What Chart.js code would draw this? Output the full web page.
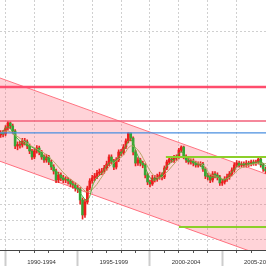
<!DOCTYPE html>
<html>
<head>
<meta charset="utf-8">
<script src="https://cdn.jsdelivr.net/npm/chart.js@4.4.1/dist/chart.umd.min.js"></script>
<style>
  html, body { margin: 0; padding: 0; background: #fff; }
  #wrap { width: 266px; height: 266px; }
</style>
</head>
<body>
<div id="wrap"><canvas id="chart" width="266" height="266"></canvas></div>
<script>
/* ── Barras bimestrales (sep 1989 → 2008) ── */
const firstBar = 1989.667;
const barStep  = 1 / 6;

const opens = [
  146.0, 147.9, 146.9, 153.2, 158.7, 155.4, 150.0, 135.1, 136.5, 136.0,
  139.9, 139.0, 135.1, 130.4, 125.1, 130.4, 133.2, 129.5, 125.1, 122.5,
  125.1, 120.8, 116.6, 113.4, 106.5, 110.3, 108.0, 106.5, 107.0, 105.8,
  103.6, 102.8, 100.7, 100.0,  92.6,  83.4,  91.3, 100.7, 105.8, 108.0,
  109.5, 111.8, 112.6, 113.4, 115.8, 119.1, 125.1, 121.6, 116.6, 122.5,
  129.5, 128.6, 134.1, 139.9, 147.9, 142.8, 129.5, 119.9, 122.5, 119.9,
  118.3, 110.3, 105.0, 103.6, 108.0, 107.2, 108.8, 110.3, 108.8, 115.8,
  120.8, 123.3, 122.5, 124.2, 124.9, 131.3, 134.1, 125.1, 122.5, 120.8,
  121.6, 119.9, 118.3, 118.8, 119.1, 115.0, 109.5, 108.8, 106.5, 111.1,
  110.3, 108.8, 104.3, 105.0, 107.2, 108.8, 111.1, 114.2, 118.3, 119.9,
  118.3, 119.1, 118.3, 119.9, 119.1, 120.8, 119.9, 120.8, 123.3, 118.3,
  115.0
];
const highs = [
  150.5, 150.8, 155.8, 160.4, 160.0, 157.5, 151.5, 139.0, 139.5, 142.5,
  142.5, 141.0, 137.0, 132.0, 132.5, 135.5, 135.0, 131.0, 127.0, 127.5,
  126.5, 122.5, 118.5, 115.0, 112.5, 112.0, 110.0, 109.0, 108.5, 107.0,
  105.5, 104.5, 102.5, 101.0,  94.0,  93.0, 102.0, 107.5, 110.0, 111.5,
  114.0, 115.0, 115.5, 118.0, 121.5, 127.0, 127.0, 123.0, 124.5, 131.5,
  132.0, 136.5, 142.0, 148.2, 148.0, 144.0, 131.0, 124.5, 124.0, 121.5,
  119.5, 111.5, 106.5, 110.0, 110.0, 111.0, 112.5, 112.0, 117.5, 122.5,
  125.5, 125.5, 126.5, 127.0, 133.0, 135.2, 135.0, 127.0, 124.5, 123.5,
  123.5, 121.5, 121.0, 121.0, 120.5, 116.5, 111.5, 110.5, 113.0, 113.0,
  112.0, 110.0, 107.0, 109.0, 111.0, 113.0, 116.0, 120.0, 122.0, 121.5,
  121.0, 121.0, 122.0, 121.5, 122.5, 122.5, 122.5, 124.4, 124.0, 119.5,
  116.5
];
const lows = [
  143.5, 144.0, 145.0, 151.0, 152.5, 147.0, 132.5, 131.5, 133.0, 134.0,
  136.0, 132.5, 128.0, 123.0, 123.5, 128.5, 127.0, 123.0, 120.5, 120.5,
  118.5, 114.5, 111.0, 104.5, 104.5, 106.0, 104.5, 104.5, 103.5, 101.5,
  100.5,  98.5,  97.5,  90.0,  81.0,  82.0,  90.0,  99.5, 104.0, 106.0,
  107.5, 110.0, 110.5, 111.5, 114.0, 117.5, 119.5, 114.5, 115.0, 121.0,
  126.0, 127.0, 132.5, 138.0, 140.0, 127.0, 117.5, 118.0, 117.5, 116.0,
  108.0, 103.0, 101.5, 102.5, 105.0, 105.5, 107.0, 106.5, 107.5, 114.5,
  119.0, 120.5, 120.5, 122.0, 123.5, 129.5, 123.5, 120.5, 119.0, 119.0,
  117.5, 116.5, 116.5, 117.0, 113.0, 107.5, 106.5, 104.5, 105.0, 108.0,
  106.5, 102.5, 102.5, 103.5, 105.5, 107.0, 109.5, 112.5, 116.5, 116.5,
  116.5, 116.5, 116.5, 117.0, 117.5, 118.0, 118.0, 119.0, 116.5, 113.0,
  111.5
];
const closes = [
  147.9, 146.9, 153.2, 158.7, 155.4, 150.0, 135.1, 136.5, 136.0, 139.9,
  139.0, 135.1, 130.4, 125.1, 130.4, 133.2, 129.5, 125.1, 122.5, 125.1,
  120.8, 116.6, 113.4, 106.5, 110.3, 108.0, 106.5, 107.0, 105.8, 103.6,
  102.8, 100.7, 100.0,  92.6,  83.4,  91.3, 100.7, 105.8, 108.0, 109.5,
  111.8, 112.6, 113.4, 115.8, 119.1, 125.1, 121.6, 116.6, 122.5, 129.5,
  128.6, 134.1, 139.9, 147.9, 142.8, 129.5, 119.9, 122.5, 119.9, 118.3,
  110.3, 105.0, 103.6, 108.0, 107.2, 108.8, 110.3, 108.8, 115.8, 120.8,
  123.3, 122.5, 124.2, 124.9, 131.3, 134.1, 125.1, 122.5, 120.8, 121.6,
  119.9, 118.3, 118.8, 119.1, 115.0, 109.5, 108.8, 106.5, 111.1, 110.3,
  108.8, 104.3, 105.0, 107.2, 108.8, 111.1, 114.2, 118.3, 119.9, 118.3,
  119.1, 118.3, 119.9, 119.1, 120.8, 119.9, 120.8, 123.3, 118.3, 115.0,
  113.4
];

/* ── Medias móviles (una muestra cada 3 barras) ── */
const maStep = 3;
const maSlow = [
  147.9, 150.0, 145.9, 140.9, 136.0, 132.3, 128.6, 123.3, 116.6, 110.3,
  105.8, 102.1,  97.9, 101.4, 108.8, 116.6, 121.6, 126.8, 135.1, 131.3,
  120.8, 111.1, 108.0, 112.6, 119.1, 125.1, 124.2, 120.8, 118.3, 111.1,
  108.8, 107.2, 109.5, 115.0, 117.4, 119.1, 119.9, 119.0
];
const maFast = [
  146.9, 154.3, 144.9, 138.0, 135.1, 131.3, 126.0, 119.1, 111.1, 107.2,
  103.6,  97.2,  92.6, 105.8, 111.8, 119.9, 122.5, 131.3, 140.9, 126.0,
  115.8, 106.5, 108.8, 117.4, 122.5, 129.5, 122.5, 119.9, 115.8, 108.8,
  108.8, 106.5, 112.6, 118.3, 119.1, 119.9, 120.8, 115.5
];

/* ── Ejes ── */
const xRange      = [1989.62, 2008.03];
const yRange      = [65.27, 374.96];
const yGrid       = [70, 80, 90, 100, 300];
const xGridYears  = [1990, 1992, 1994, 1996, 1998, 2000, 2002, 2004, 2006];
const xTickYears  = [1990, 1991, 1992, 1993, 1994, 1995, 1996, 1997, 1998,
                     1999, 2000, 2001, 2002, 2003, 2004, 2005, 2006, 2007];
const blockStarts = [1990, 1995, 2000, 2005];
const blockLabels = ['1990-1994', '1995-1999', '2000-2004', '2005-2009'];

/* ── Niveles horizontales y canal ── */
const levelPrices   = [204, 161, 148, 125.1, 76.7];
const levelFrom     = [1989.62, 1989.62, 1989.62, 2001.1, 2002.0];
const channelTop    = [217.3, 111.1];
const channelBottom = [121.4, 62.2];

const levelStyles = [
  { color: '#ff4d6d', width: 2.5 },
  { color: '#f2607a', width: 1.5 },
  { color: '#4a8fe0', width: 1.2 },
  { color: '#8ccf2a', width: 2 },
  { color: '#8ccf2a', width: 2 },
];
const UP = '#ee1c1c', DOWN = '#34a534', WICK = '#e82424';

const barYear  = i => firstBar + i * barStep;
const blockMid = blockStarts.map(v => v + 2.5);

const wickData  = closes.map((c, i) => ({ x: barYear(i), y: [lows[i], highs[i]] }));
const bodyData  = closes.map((c, i) => ({ x: barYear(i), y: [opens[i], c] }));
const bodyColor = closes.map((c, i) => c >= opens[i] ? UP : DOWN);
const maPoints  = arr => arr.map((v, k) => ({ x: barYear(k * maStep), y: v }));

const levelSets = levelPrices.map((p, k) => ({
  type: 'line',
  data: [{ x: levelFrom[k], y: p }, { x: xRange[1], y: p }],
  borderColor: levelStyles[k].color,
  borderWidth: levelStyles[k].width,
  pointRadius: 0,
  fill: false,
  order: 0,
}));

new Chart(document.getElementById('chart'), {
  type: 'line',
  data: {
    datasets: [
      {
        type: 'line',
        data: [{ x: xRange[0], y: channelTop[0] }, { x: xRange[1], y: channelTop[1] }],
        borderColor: '#ff7482', borderWidth: 1, pointRadius: 0,
        backgroundColor: 'rgba(255,92,112,0.27)',
        fill: '+1',
        order: 10,
      },
      {
        type: 'line',
        data: [{ x: xRange[0], y: channelBottom[0] }, { x: xRange[1], y: channelBottom[1] }],
        borderColor: '#ff7482', borderWidth: 1, pointRadius: 0,
        fill: false,
        order: 10,
      },
      {
        type: 'bar',
        data: wickData,
        backgroundColor: WICK,
        barThickness: 1,
        grouped: false,
        order: 4,
      },
      {
        type: 'bar',
        data: bodyData,
        backgroundColor: bodyColor,
        barThickness: 2,
        grouped: false,
        order: 3,
      },
      {
        type: 'line',
        data: maPoints(maSlow),
        borderColor: '#b9a466', borderWidth: 1, pointRadius: 0,
        tension: 0.4, fill: false,
        order: 2,
      },
      {
        type: 'line',
        data: maPoints(maFast),
        borderColor: '#4caf36', borderWidth: 1, pointRadius: 0,
        tension: 0.4, fill: false,
        order: 1,
      },
      ...levelSets,
    ],
  },
  options: {
    responsive: false,
    animation: false,
    devicePixelRatio: 1,
    layout: { padding: 0 },
    plugins: {
      legend: { display: false },
      tooltip: { enabled: false },
    },
    scales: {
      x: {
        type: 'linear', position: 'bottom', weight: 1,
        min: xRange[0], max: xRange[1], offset: false,
        afterBuildTicks: s => {
          s.ticks = xTickYears.concat(blockMid).sort((a, b) => a - b).map(v => ({ value: v }));
        },
        afterFit: s => { s.height = 16; s.paddingLeft = 0; s.paddingRight = 0; },
        grid: {
          offset: false,
          color: c => xGridYears.includes(c.tick && c.tick.value) ? '#d0d0d0' : 'rgba(0,0,0,0)',
          tickColor: c => (c.tick && Number.isInteger(c.tick.value)) ? '#555' : 'rgba(0,0,0,0)',
          tickLength: 3,
        },
        border: { display: true, color: '#444', width: 1, dash: [2, 2] },
        ticks: {
          autoSkip: false, maxRotation: 0, minRotation: 0, padding: 6,
          color: '#333',
          font: { family: 'Liberation Sans', size: 6 },
          callback: v => {
            const k = blockMid.indexOf(v);
            return k >= 0 ? blockLabels[k] : '';
          },
        },
      },
      x2: {
        type: 'linear', position: 'bottom', weight: 0,
        min: xRange[0], max: xRange[1], offset: false,
        afterBuildTicks: s => { s.ticks = blockStarts.map(v => ({ value: v })); },
        afterFit: s => { s.height = 0; s.paddingLeft = 0; s.paddingRight = 0; },
        grid: {
          offset: false, drawOnChartArea: false, drawTicks: true,
          tickLength: 16, tickWidth: 2, tickColor: '#cdcdcd',
        },
        border: { display: false },
        ticks: { display: false },
      },
      y: {
        type: 'logarithmic', position: 'left',
        min: yRange[0], max: yRange[1],
        afterBuildTicks: s => { s.ticks = yGrid.map(v => ({ value: v })); },
        afterFit: s => { s.width = 0; },
        grid: { color: '#d0d0d0', drawTicks: false },
        border: { display: false, dash: [2, 2] },
        ticks: { display: false },
      },
    },
  },
});
</script>
</body>
</html>
